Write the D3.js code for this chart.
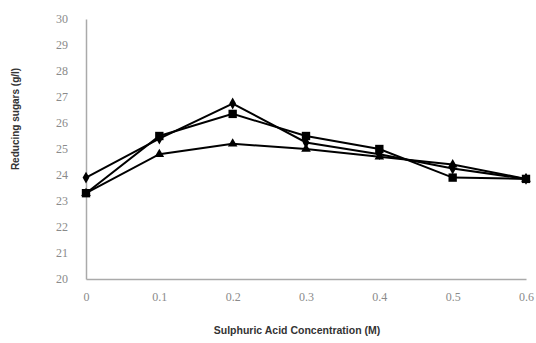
<!DOCTYPE html>
<html>
<head>
<meta charset="utf-8">
<script src="https://cdn.jsdelivr.net/npm/d3@7"></script>
<style>
  body { margin: 0; background: #fff; }
  .tick text { font-family: "Liberation Serif", "DejaVu Serif", serif; font-size: 12px; fill: #8a8a8a; }
  .label { font-family: "Liberation Sans", Arial, sans-serif; font-weight: bold; fill: #333; }
</style>
</head>
<body>
<svg id="chart" width="536" height="343"></svg>
<script>
// Data
const concentration = [0, 0.1, 0.2, 0.3, 0.4, 0.5, 0.6];
const seriesDiamond = [23.9, 25.4, 26.75, 25.25, 24.8, 24.25, 23.85];
const seriesSquare = [23.3, 25.5, 26.35, 25.5, 25.0, 23.9, 23.85];
const seriesTriangle = [23.3, 24.8, 25.2, 25.0, 24.7, 24.4, 23.85];
const yTicks = [20, 21, 22, 23, 24, 25, 26, 27, 28, 29, 30];
const xTicks = [0, 0.1, 0.2, 0.3, 0.4, 0.5, 0.6];

const svg = d3.select('#chart');

const plotLeft = 86, plotRight = 526, plotTop = 19, plotBottom = 279;

const xScale = d3.scaleLinear().domain([0, 0.6]).range([plotLeft, plotRight]);
const yScale = d3.scaleLinear().domain([20, 30]).range([plotBottom, plotTop]);

// axes
const yAxis = d3.axisLeft(yScale)
    .tickValues(yTicks)
    .tickSize(0)
    .tickPadding(18)
    .tickFormat(d3.format('d'));

svg.append('g')
    .attr('transform', `translate(${plotLeft},0)`)
    .call(yAxis)
    .call(g => g.select('.domain').attr('stroke', '#aaa').attr('stroke-width', 1.5));

const xAxis = d3.axisBottom(xScale)
    .tickValues(xTicks)
    .tickSize(0)
    .tickPadding(13)
    .tickFormat(d => d === 0 ? '0' : d3.format('.1f')(d));

svg.append('g')
    .attr('transform', `translate(0,${plotBottom})`)
    .call(xAxis)
    .call(g => g.select('.domain').attr('stroke', '#aaa').attr('stroke-width', 1.5));

// lines
const line = d3.line()
    .x((d, i) => xScale(concentration[i]))
    .y(d => yScale(d));

const series = [
    { values: seriesDiamond, symbol: d3.symbolDiamond, size: 40 },
    { values: seriesSquare, symbol: d3.symbolSquare, size: 70 },
    { values: seriesTriangle, symbol: d3.symbolTriangle, size: 40 }
];

series.forEach(s => {
    svg.append('path')
        .datum(s.values)
        .attr('fill', 'none')
        .attr('stroke', '#000')
        .attr('stroke-width', 2)
        .attr('d', line);

    svg.selectAll(null)
        .data(s.values)
        .enter()
        .append('path')
        .attr('transform', (d, i) => `translate(${xScale(concentration[i])},${yScale(d)})`)
        .attr('d', d3.symbol().type(s.symbol).size(s.size))
        .attr('fill', '#000');
});

// titles
svg.append('text')
    .attr('class', 'label')
    .attr('transform', 'translate(19,119) rotate(-90)')
    .attr('text-anchor', 'middle')
    .attr('font-size', 10)
    .text('Reducing sugars (g/l)');

svg.append('text')
    .attr('class', 'label')
    .attr('x', 297)
    .attr('y', 334)
    .attr('text-anchor', 'middle')
    .attr('font-size', 10.5)
    .text('Sulphuric Acid Concentration (M)');
</script>
</body>
</html>
